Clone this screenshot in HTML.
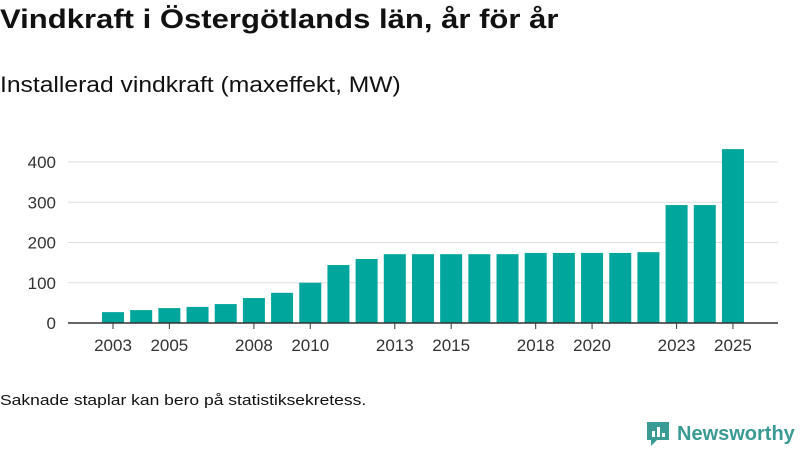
<!DOCTYPE html>
<html><head><meta charset="utf-8"><style>
body{margin:0;width:800px;height:450px;background:#fff;font-family:"Liberation Sans","DejaVu Sans",sans-serif;overflow:hidden;position:relative}
h1{position:absolute;left:0;top:4px;margin:0;font-size:27px;font-weight:bold;color:#111;transform:scaleX(1.15);transform-origin:left;white-space:nowrap}
h2{position:absolute;left:0;top:72px;margin:0;font-size:22px;font-weight:normal;color:#111;transform:scaleX(1.12);transform-origin:left;white-space:nowrap}
.note{position:absolute;left:0;top:392px;font-size:15px;color:#111;transform:scaleX(1.165);transform-origin:left;white-space:nowrap}
.logo{position:absolute;left:645px;top:420px;font-size:20px;font-weight:bold;color:#3a9a94;display:flex;align-items:center;gap:6px}
</style></head><body>
<h1>Vindkraft i Östergötlands län, år för år</h1>
<h2>Installerad vindkraft (maxeffekt, MW)</h2>
<svg id="chart" width="800" height="450" style="position:absolute;left:0;top:0"></svg>
<div class="note">Saknade staplar kan bero på statistiksekretess.</div>
<div class="logo"><svg width="26" height="28" viewBox="0 0 26 28"><path d="M2 2h22v18H12l-6 6v-6H2z" fill="#3a9a94"/><rect x="7" y="11" width="3" height="6" fill="#fff"/><rect x="12" y="7" width="3" height="10" fill="#fff"/><rect x="17" y="13" width="3" height="4" fill="#fff"/></svg><span>Newsworthy</span></div>
<script>
const years=[2003,2004,2005,2006,2007,2008,2009,2010,2011,2012,2013,2014,2015,2016,2017,2018,2019,2020,2021,2022,2023,2024,2025];
const values=[27,32,37,40,47,62,75,100,144,159,171,171,171,171,171,174,174,174,174,176,293,293,432];
const yTicks=[0,100,200,300,400];
const xLabels=[2003,2005,2008,2010,2013,2015,2018,2020,2023,2025];
const svg=document.getElementById('chart');const NS='http://www.w3.org/2000/svg';
const y=v=>323-v*0.4025;
const x=yr=>113+(yr-2003)*28.18;
function mk(t,a){const e=document.createElementNS(NS,t);for(const k in a)e.setAttribute(k,a[k]);svg.appendChild(e);return e;}
yTicks.forEach(t=>{
  if(t>0){const l=mk('line',{x1:68,x2:778,y1:y(t),y2:y(t),stroke:'#ddd','stroke-width':1});
  
  }
  const tx=mk('text',{x:56,y:y(t)+6,'text-anchor':'end','font-size':17,fill:'#333','font-family':'Liberation Sans, sans-serif'});tx.textContent=t;
  
  
});
years.forEach((yr,i)=>{
  const r=mk('rect',{x:x(yr)-11,y:y(values[i]),width:22,height:323-y(values[i]),fill:'#00a59b'});
  
  
});
const ax=mk('line',{x1:68,x2:778,y1:323,y2:323,stroke:'#333','stroke-width':1.5});


xLabels.forEach(yr=>{
  const tk=mk('line',{x1:x(yr),x2:x(yr),y1:323,y2:329,stroke:'#333'});
  
  
  const tx=mk('text',{x:x(yr),y:351,'text-anchor':'middle','font-size':17,fill:'#333','font-family':'Liberation Sans, sans-serif'});tx.textContent=yr;
  
  
});
</script>
</body></html>
